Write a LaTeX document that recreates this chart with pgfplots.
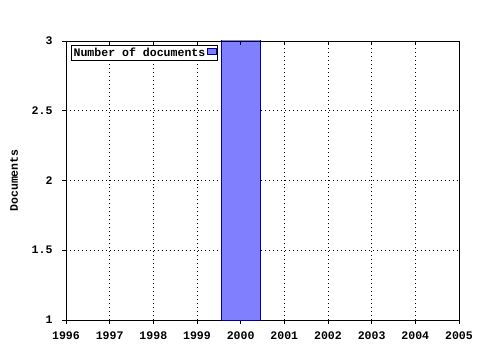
\documentclass[border=0pt]{standalone}
\usepackage{pgfplots}
\pgfplotsset{compat=1.18}
\usepackage{fontspec}
\setmainfont{Liberation Mono}
\definecolor{barfill}{RGB}{128,128,255}
\definecolor{baredge}{RGB}{0,0,160}
\begin{document}
\begin{tikzpicture}
\pgfplotsset{every axis/.append style={
  scale only axis,
  width=393bp, height=279bp,
  xmin=1996, xmax=2005, ymin=1, ymax=3,
  xtick={1996,...,2005},
  minor x tick num=3,
  major tick length=4bp, minor tick length=4bp,
  axis line style={black, line width=0.8pt},
  tick style={black, line width=0.8pt},
}}
\begin{axis}[
  ytick={1,1.5,2,2.5,3},
  yticklabels={1,1.5,2,2.5,3},
  xticklabels={1996,1997,1998,1999,2000,2001,2002,2003,2004,2005},
  tick label style={font=\fontsize{11.6}{12}\selectfont\bfseries},
  xticklabel style={yshift=-4bp},
  yticklabel style={xshift=-6bp},
  ylabel={Documents},
  ylabel style={font=\fontsize{11.6}{12}\selectfont\bfseries, at={(-52bp,0.5)}, anchor=center},
  xtick pos=bottom, ytick pos=left,
  xtick align=outside, ytick align=outside,
  grid=major,
  major grid style={black, line width=0.7pt, dash pattern=on 1pt off 3pt},
  legend style={at={(0.013,0.985)}, anchor=north west, draw=black, fill=white,
    font=\fontsize{11.6}{12}\selectfont\bfseries, inner sep=0.3pt, row sep=0pt,
    legend cell align=left},
  legend plot pos=right,
  legend image code/.code={\draw[fill=barfill, draw=baredge, line width=0.8pt] (0cm,-0.06cm) rectangle (0.3cm,0.14cm);},
  clip=true,
]
\addplot[ybar, bar width=0.9, fill=barfill, draw=baredge, line width=0.8pt, bar shift=0pt]
  coordinates {(2000,3.2)};
\addlegendentry{Number of documents}
\end{axis}
\begin{axis}[
  xtick pos=top, xtick align=inside,
  xticklabels={}, ytick=\empty,
  axis x line*=top, axis y line=none,
]
\end{axis}
\useasboundingbox ([xshift=-66bp,yshift=-30bp]current axis.south west) rectangle ++(480bp,350bp);
\end{tikzpicture}
\end{document}
